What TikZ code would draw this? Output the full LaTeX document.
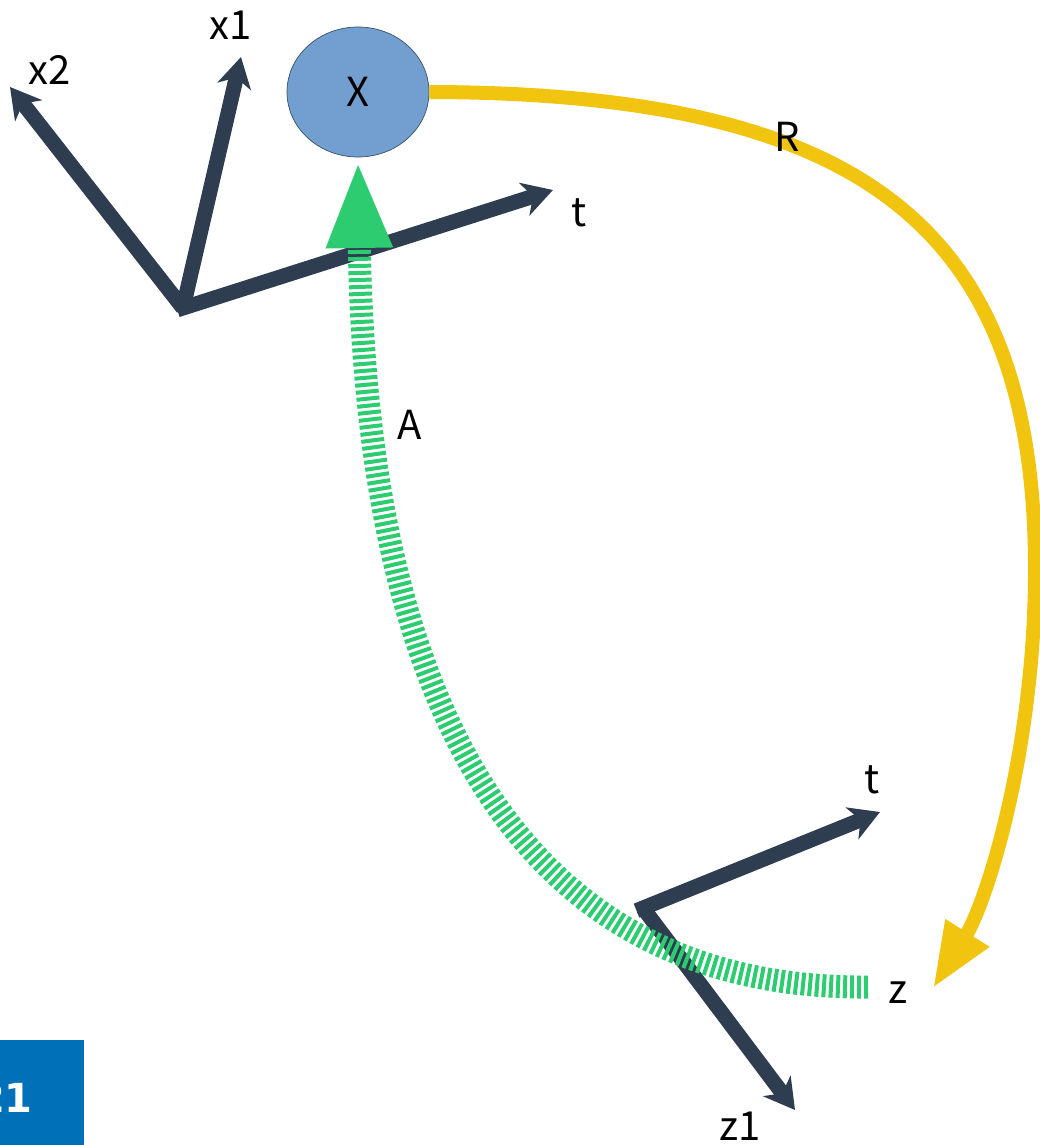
\documentclass[tikz,border=0pt]{standalone}
\usepackage{fontspec}
\setmainfont{Noto Sans CJK SC}
\newfontfamily\pagefont{DejaVu Sans}
\usetikzlibrary{arrows.meta,shapes.geometric,calc}
\definecolor{axis}{HTML}{2E3E50}
\definecolor{ryel}{HTML}{F1C40F}
\definecolor{agreen}{HTML}{2ECC71}
\definecolor{xblue}{HTML}{729FCF}
\definecolor{boxblue}{HTML}{0070B8}
\begin{document}
\begin{tikzpicture}[x=1pt,y=-1pt,
  axisarrow/.style={draw=axis, line width=15pt, -{Stealth[length=30pt,width=34pt,inset=9pt]}},
  lbl/.style={font=\fontsize{40}{44}\selectfont, inner sep=0pt}]
\useasboundingbox (0,0) rectangle (1039,1145);
% frames
\coordinate (o1) at (183,308);
\coordinate (x2tip) at (10,87);
\coordinate (x1tip) at (241,57);
\coordinate (t1tip) at (553,190);
\coordinate (o2) at (643,908);
\coordinate (t2tip) at (880,812);
\coordinate (z1tip) at (795,1110);
\draw[axisarrow] (o1) -- (x2tip);
\draw[axisarrow] (o1) -- (x1tip);
\draw[axisarrow] ($(o1)!-6pt!(t1tip)$) -- (t1tip);
\draw[axisarrow] ($(o2)!-7pt!(t2tip)$) -- (t2tip);
\draw[axisarrow] (o2) -- (z1tip);
% X node
\node[ellipse, minimum width=142pt, minimum height=130pt, fill=xblue, draw=xblue!50!black, line width=0.7pt, font=\fontsize{40}{44}\selectfont] (X) at (358,92) {X};
% yellow R
\coordinate (ztip) at (933,988);
\draw[ryel, line width=14pt, -{Triangle[length=65pt,width=48pt]}] (X.east) .. controls (880,93) and (1038,240) .. (1035,580) .. controls (1033,760) and (985,905) .. (ztip);
% green A
\coordinate (zstart) at (868,987);
\coordinate (atip) at (358,160);
\draw[agreen, line width=23pt, dash pattern=on 4pt off 3pt, -{Triangle[length=88pt,width=60pt]}] (zstart) .. controls (470,990) and (365,620) .. (atip);
% labels
\node[lbl] (lx2) at (50,70) {x2};
\node[lbl] (lx1) at (231,25) {x1};
\node[lbl] (lt1) at (579,213) {t};
\node[lbl] (lR) at (787,137) {R};
\node[lbl] (lA) at (410,425) {A};
\node[lbl] (lt2) at (872,780) {t};
\node[lbl] (lz) at (898,993) {z};
\node[lbl] (lz1) at (740,1126) {z1};
% page box
\fill[boxblue] (0,1040) rectangle (84,1145);
\node[font=\pagefont\bfseries\fontsize{40}{44}\selectfont, text=white, inner sep=0pt, anchor=east] (pg) at (33,1098) {21};
\end{tikzpicture}
\end{document}
